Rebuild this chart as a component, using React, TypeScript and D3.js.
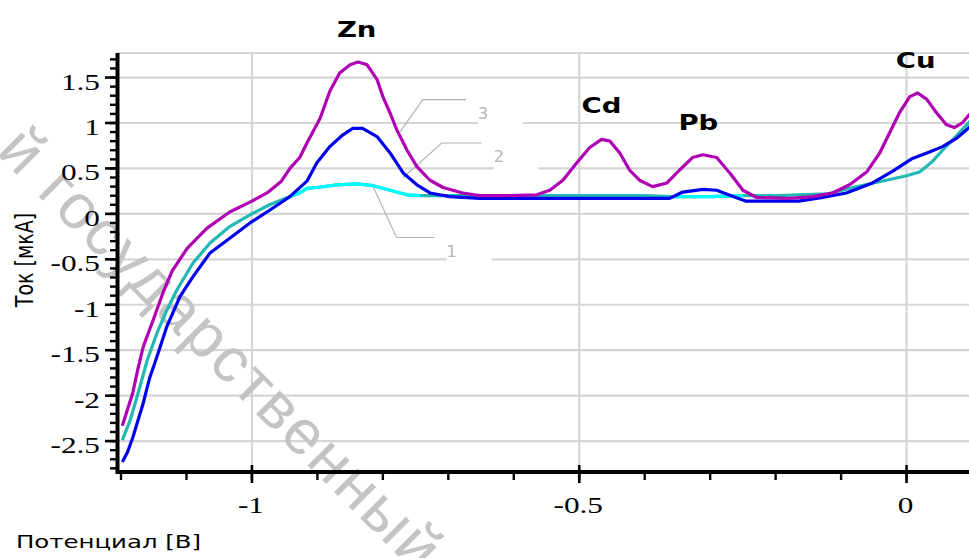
import React from 'react';
import * as d3 from 'd3';

const W = 969;
const H = 558;

// Curve 1 (teal, reference / sample 1), potential [V], current [µA]
const curve1: [number, number][] = [
  [-1.198, -2.49], [-1.186, -2.27], [-1.171, -1.9], [-1.16, -1.61], [-1.145, -1.31],
  [-1.13, -1.06], [-1.115, -0.84], [-1.09, -0.54], [-1.064, -0.32], [-1.034, -0.14],
  [-1.003, -0.01], [-0.973, 0.1], [-0.942, 0.19], [-0.927, 0.23], [-0.916, 0.28],
  [-0.901, 0.29], [-0.87, 0.32], [-0.84, 0.33], [-0.815, 0.31], [-0.789, 0.26],
  [-0.763, 0.21], [-0.743, 0.2], [-0.7, 0.2], [-0.4, 0.2], [-0.36, 0.19], [-0.3, 0.19],
  [-0.25, 0.2], [-0.2, 0.2], [-0.12, 0.22], [-0.082, 0.29], [-0.031, 0.37], [0.0, 0.42],
  [0.02, 0.46], [0.04, 0.58], [0.055, 0.7], [0.07, 0.81], [0.097, 1.02],
];

// Curve 2 (blue)
const curve2: [number, number][] = [
  [-1.198, -2.73], [-1.19, -2.62], [-1.182, -2.46], [-1.166, -2.08], [-1.156, -1.8],
  [-1.145, -1.57], [-1.13, -1.24], [-1.11, -0.91], [-1.09, -0.69], [-1.064, -0.43],
  [-1.038, -0.29], [-1.003, -0.1], [-0.973, 0.04], [-0.942, 0.19], [-0.916, 0.36],
  [-0.901, 0.56], [-0.881, 0.74], [-0.861, 0.87], [-0.846, 0.94], [-0.831, 0.94],
  [-0.809, 0.85], [-0.789, 0.67], [-0.769, 0.45], [-0.748, 0.32], [-0.728, 0.23],
  [-0.698, 0.19], [-0.652, 0.17], [-0.5, 0.17], [-0.362, 0.17], [-0.342, 0.24],
  [-0.311, 0.27], [-0.29, 0.26], [-0.265, 0.19], [-0.245, 0.14], [-0.165, 0.14],
  [-0.128, 0.18], [-0.092, 0.23], [-0.052, 0.34], [-0.021, 0.47], [0.009, 0.61],
  [0.035, 0.68], [0.055, 0.74], [0.076, 0.83], [0.097, 0.96],
];

// Curve 3 (magenta)
const curve3: [number, number][] = [
  [-1.198, -2.33], [-1.19, -2.15], [-1.182, -1.97], [-1.174, -1.7], [-1.166, -1.46],
  [-1.151, -1.17], [-1.136, -0.87], [-1.122, -0.63], [-1.099, -0.38], [-1.069, -0.16],
  [-1.034, 0.02], [-1.0, 0.14], [-0.975, 0.24], [-0.955, 0.36], [-0.942, 0.5], [-0.927, 0.62],
  [-0.916, 0.78], [-0.896, 1.05], [-0.881, 1.35], [-0.866, 1.55], [-0.85, 1.64],
  [-0.838, 1.67], [-0.824, 1.64], [-0.809, 1.48], [-0.8, 1.29], [-0.789, 1.11],
  [-0.779, 0.93], [-0.763, 0.7], [-0.748, 0.52], [-0.728, 0.37], [-0.708, 0.29],
  [-0.678, 0.23], [-0.652, 0.2], [-0.617, 0.2], [-0.565, 0.21], [-0.545, 0.26],
  [-0.525, 0.37], [-0.504, 0.56], [-0.484, 0.73], [-0.466, 0.82], [-0.453, 0.8],
  [-0.438, 0.67], [-0.423, 0.48], [-0.408, 0.37], [-0.388, 0.3], [-0.366, 0.34],
  [-0.347, 0.48], [-0.327, 0.62], [-0.311, 0.65], [-0.29, 0.62], [-0.27, 0.45],
  [-0.25, 0.26], [-0.229, 0.18], [-0.179, 0.17], [-0.144, 0.19], [-0.113, 0.23],
  [-0.087, 0.32], [-0.061, 0.46], [-0.041, 0.67], [-0.026, 0.89], [-0.011, 1.11],
  [0.005, 1.29], [0.017, 1.33], [0.031, 1.26], [0.046, 1.11], [0.061, 0.98],
  [0.073, 0.95], [0.085, 1.0], [0.097, 1.1],
];

// potential ranges where curve 1 shows in bright cyan
const cyanRanges: [number, number][] = [[-0.93, -0.74], [-0.36, -0.25]];

const yMajor = [-2.5, -2, -1.5, -1, -0.5, 0, 0.5, 1, 1.5];
const yLabels = ['-2.5', '-2', '-1.5', '-1', '-0.5', '0', '0.5', '1', '1.5'];
const xMajor = [-1, -0.5, 0];
const xLabels = ['-1', '-0.5', '0'];

const peakNames = ['Zn', 'Cd', 'Pb', 'Cu'];
const peakV = [-0.84, -0.466, -0.318, 0.014];
const peakI = [1.95, 1.11, 0.92, 1.6];

const tagNames = ['3', '2', '1'];
const tagAnchorV = [-0.774, -0.769, -0.815];
const tagAnchorI = [0.9, 0.4, 0.3];
const tagElbowV = [-0.739, -0.71, -0.779];
const tagElbowI = [1.256, 0.78, -0.26];
const tagEndV = [-0.673, -0.649, -0.721];

const watermark = 'й государственный';

export default function App() {
  const x = d3.scaleLinear().domain([-1.2046, 0.0954]).range([118, 969]);
  const y = d3.scaleLinear().domain([-2.84, 1.77]).range([472, 53]);
  const [x0, x1] = x.range();
  const [yb, yt] = y.range();

  const line = d3
    .line<[number, number]>()
    .x((d) => x(d[0]))
    .y((d) => y(d[1]));

  const yMinor = d3.range(-28, 18).map((i) => i / 10);
  const xMinor = d3.range(-12, 2).map((i) => i / 10);

  const cyanSegs = cyanRanges.map(([a, b]) => curve1.filter((d) => d[0] >= a - 0.02 && d[0] <= b + 0.02));

  const tickFont = { fontFamily: 'Liberation Serif', fontSize: 23, fill: '#000' };
  const sx = 1.36;

  return (
    <svg width={W} height={H} style={{ position: 'absolute', left: 0, top: 0, background: '#fff' }}>
      <defs>
        <clipPath id="plot">
          <rect x={x0} y={yt} width={x1 - x0} height={yb - yt} />
        </clipPath>
      </defs>
      <rect x={0} y={0} width={W} height={H} fill="#fff" />

      {/* grid */}
      <g stroke="#d6d6d6" strokeWidth={2.2}>
        <line x1={x0} x2={x1} y1={yt} y2={yt} />
        {yMajor.map((v) => (
          <line key={'gy' + v} x1={x0} x2={x1} y1={y(v)} y2={y(v)} />
        ))}
        {xMajor.map((v) => (
          <line key={'gx' + v} x1={x(v)} x2={x(v)} y1={yt} y2={yb} />
        ))}
      </g>

      {/* watermark */}
      <text
        transform="translate(-5,153) rotate(45)"
        fontFamily="Liberation Sans"
        fontSize={63}
        letterSpacing={2.5}
        fill="#c4c4c4"
      >
        {watermark}
      </text>

      {/* curve tags */}
      {tagNames.map((t, i) => {
        const ax = x(tagAnchorV[i]);
        const ay = y(tagAnchorI[i]);
        const ex = x(tagElbowV[i]);
        const ey = y(tagElbowI[i]);
        const endx = x(tagEndV[i]);
        return (
          <g key={'tag' + t}>
            <rect x={endx + 12} y={ey + 4} width={45} height={25} fill="#fff" />
            <polyline points={`${ax},${ay} ${ex},${ey} ${endx},${ey}`} fill="none" stroke="#b4b4b4" strokeWidth={1.2} />
            <text x={endx + 12} y={ey + 19} fontFamily="DejaVu Sans" fontSize={16} fill="#b4b4b4">
              {t}
            </text>
          </g>
        );
      })}

      {/* curves */}
      <g clipPath="url(#plot)" fill="none" strokeWidth={3.2} strokeLinejoin="round">
        <path d={line(curve1) || ''} stroke="#22b8b4" />
        {cyanSegs.map((s, i) => (
          <path key={'cy' + i} d={line(s) || ''} stroke="#00ffff" />
        ))}
        <path d={line(curve2) || ''} stroke="#0000ee" />
        <path d={line(curve3) || ''} stroke="#b000b4" />
      </g>

      {/* axes */}
      <g stroke="#000">
        <line x1={x0 - 0.5} x2={x0 - 0.5} y1={yt} y2={yb + 2} strokeWidth={4} />
        <line x1={x0 - 2} x2={x1} y1={yb} y2={yb} strokeWidth={4} />
        {yMinor.map((v) => (
          <line key={'ym' + v} x1={x0 - 8} x2={x0} y1={y(v)} y2={y(v)} strokeWidth={2.4} />
        ))}
        {yMajor.map((v) => (
          <line key={'yM' + v} x1={x0 - 13} x2={x0} y1={y(v)} y2={y(v)} strokeWidth={2.6} />
        ))}
        {xMinor.map((v) => (
          <line key={'xm' + v} x1={x(v)} x2={x(v)} y1={yb} y2={yb + 8} strokeWidth={2.4} />
        ))}
        {xMajor.map((v) => (
          <line key={'xM' + v} x1={x(v)} x2={x(v)} y1={yb - 7} y2={yb + 11} strokeWidth={2.6} />
        ))}
      </g>

      {/* tick labels */}
      {yMajor.map((v, i) => (
        <text key={'yl' + v} transform={`translate(100,${y(v) + 12}) scale(${sx},1)`} textAnchor="end" {...tickFont}>
          {yLabels[i]}
        </text>
      ))}
      {xMajor.map((v, i) => (
        <text key={'xl' + v} transform={`translate(${x(v) - 1},513) scale(${sx},1)`} textAnchor="middle" {...tickFont}>
          {xLabels[i]}
        </text>
      ))}

      {/* axis titles */}
      <text transform="translate(33,260) scale(1.3,1) rotate(-90)" textAnchor="middle" fontFamily="DejaVu Sans" fontSize={19} fill="#000">
        Ток [мкА]
      </text>
      <text transform="translate(16,548) scale(1.32,1)" fontFamily="DejaVu Sans" fontSize={18.5} fill="#000">
        Потенциал [В]
      </text>

      {/* peak labels */}
      {peakNames.map((p, i) => (
        <text
          key={'pk' + p}
          transform={`translate(${x(peakV[i])},${y(peakI[i])}) scale(1.25,1)`}
          textAnchor="middle"
          fontFamily="DejaVu Sans"
          fontWeight="bold"
          fontSize={22}
          fill="#000"
        >
          {p}
        </text>
      ))}
    </svg>
  );
}
